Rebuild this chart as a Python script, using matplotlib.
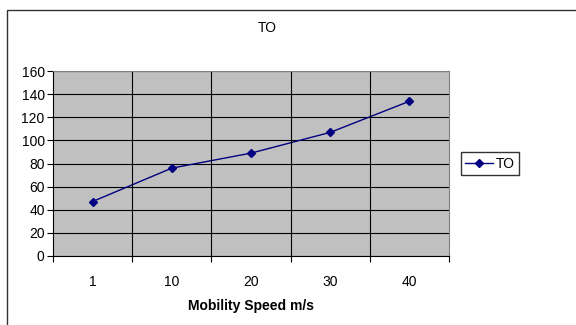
import matplotlib
matplotlib.use("Agg")
import matplotlib.pyplot as plt
from matplotlib.patches import Rectangle

categories = ["1", "10", "20", "30", "40"]
to_values = [47, 76, 89, 107, 134]
y_ticks = [0, 20, 40, 60, 80, 100, 120, 140, 160]

plt.rcParams['font.family'] = ['Liberation Sans', 'DejaVu Sans']
FS = 10

fig = plt.figure(figsize=(5.76, 3.25), dpi=100)
fig.patch.set_facecolor('white')

# outer chart border
fig.add_artist(Rectangle((7/576, -0.1), 1.2, 1 - 10/325 + 0.1, transform=fig.transFigure,
                         fill=False, edgecolor='#333333', linewidth=1.0))

ax = fig.add_axes([53/576, 1 - 255.7/325, (449 - 53)/576, (255.7 - 71.3)/325])
ax.set_facecolor('#C0C0C0')

x = list(range(len(categories)))
ax.plot(x, to_values, color='#000080', marker='D', markersize=4, linewidth=1.0, label='TO')

ax.set_xlim(-0.5, len(categories) - 0.5)
ax.set_ylim(0, 160)
ax.set_yticks(y_ticks)
ax.set_yticklabels([str(v) for v in y_ticks], fontsize=FS)
ax.yaxis.grid(True, color='black', linewidth=0.8)

bounds = [i - 0.5 for i in range(len(categories) + 1)]
ax.set_xticks(bounds)
ax.set_xticklabels([''] * len(bounds))
ax.set_xticks(x, minor=True)
ax.set_xticklabels(categories, minor=True, fontsize=FS)
ax.tick_params(axis='x', which='minor', length=0, pad=14)
ax.tick_params(axis='x', which='major', length=4, direction='out', color='black')
ax.tick_params(axis='y', length=4, direction='out', color='black', pad=2)
for b in bounds[1:-1]:
    ax.axvline(b, color='black', linewidth=0.8)
ax.set_axisbelow(True)

ax.spines['left'].set_color('black')
ax.spines['bottom'].set_color('black')
ax.spines['top'].set_color('#808080')
ax.spines['right'].set_color('#808080')

ax.set_xlabel('Mobility Speed m/s', fontsize=FS, fontweight='bold', labelpad=7)
fig.text(267/576, 1 - 28/325, 'TO', ha='center', va='center', fontsize=FS)

leg = ax.legend(loc='center left', bbox_to_anchor=(1.03, 0.5), fontsize=FS, frameon=True,
                fancybox=False, edgecolor='black', handlelength=2.0, borderpad=0.3,
                handletextpad=0.2, borderaxespad=0)
leg.get_frame().set_linewidth(1.0)

fig.savefig('out.png', dpi=100, facecolor='white')
